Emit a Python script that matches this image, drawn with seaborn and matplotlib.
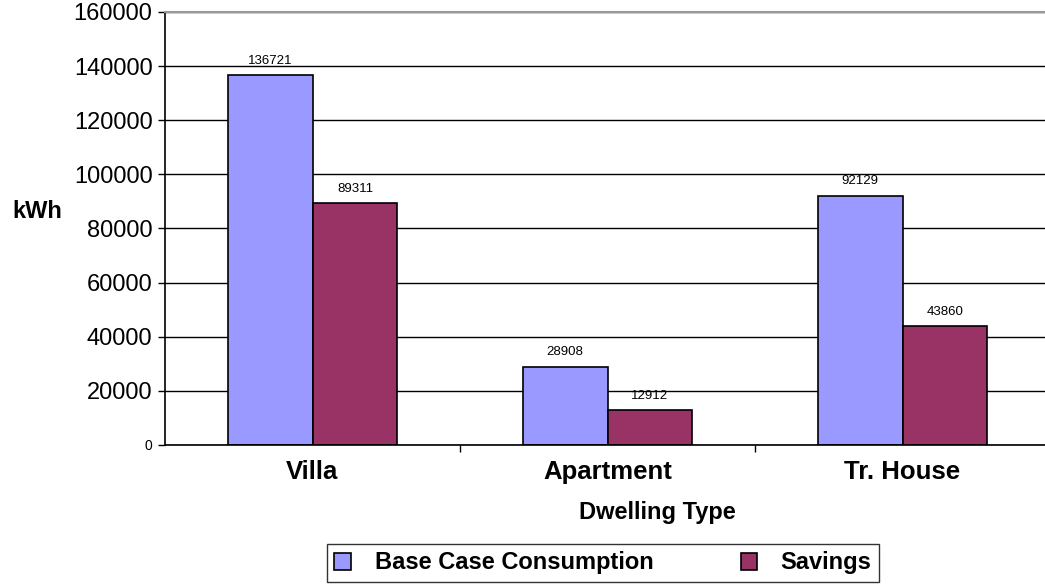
import matplotlib
matplotlib.use("Agg")
import matplotlib.pyplot as plt
import seaborn as sns
import pandas as pd
from matplotlib.ticker import FixedLocator

dwelling_types = ["Villa", "Apartment", "Tr. House"]
base_case = [136721, 28908, 92129]
savings = [89311, 12912, 43860]
series_names = ["Base Case Consumption", "Savings"]
y_ticks = [0, 20000, 40000, 60000, 80000, 100000, 120000, 140000, 160000]

df = pd.DataFrame({
    "Dwelling Type": dwelling_types * 2,
    "Series": [series_names[0]] * 3 + [series_names[1]] * 3,
    "kWh": base_case + savings,
})

sns.set_theme(style="white")
plt.rcParams["font.family"] = ["Liberation Sans", "DejaVu Sans"]
plt.rcParams["text.color"] = "black"

fig = plt.figure(figsize=(10.45, 5.85), dpi=100)
ax = fig.add_axes([165 / 1045, 1 - 445 / 585, 880 / 1045, 433 / 585])

sns.barplot(
    data=df, x="Dwelling Type", y="kWh", hue="Series",
    palette=["#9999FF", "#993366"], width=0.576, gap=0,
    edgecolor="black", linewidth=1.2, saturation=1, ax=ax, legend=True,
)

for cont in ax.containers:
    ax.bar_label(cont, labels=[f"{int(v)}" for v in cont.datavalues],
                 padding=6, fontsize=9.5, color="black")

ax.set_xlim(-0.5, 2.5 - 5 / 295)
ax.set_ylim(0, 160000)
ax.set_yticks(y_ticks)
ax.set_yticklabels([str(t) for t in y_ticks])
for lbl in ax.get_yticklabels():
    lbl.set_fontsize(10 if lbl.get_text() == "0" else 17)
ax.yaxis.grid(True, color="black", linewidth=1)
ax.set_axisbelow(True)
ax.tick_params(axis="y", which="major", left=True, length=5, width=1,
               color="black", pad=4, labelcolor="black")

ax.set_xticks([0, 1, 2])
ax.set_xticklabels(dwelling_types, fontsize=18.5, fontweight="bold", color="black")
ax.tick_params(axis="x", which="major", bottom=False, pad=5)
ax.xaxis.set_minor_locator(FixedLocator([0.5, 1.5]))
ax.tick_params(axis="x", which="minor", bottom=True, length=5, width=1,
               color="black")

ax.set_xlabel("")
ax.set_ylabel("")
ax.spines["right"].set_visible(False)
ax.spines["left"].set_color("black")
ax.spines["bottom"].set_color("black")
ax.spines["left"].set_linewidth(1.2)
ax.spines["bottom"].set_linewidth(1.2)
ax.spines["top"].set_color("#999999")
ax.spines["top"].set_linewidth(1.5)

fig.text(37 / 1045, 1 - 212 / 585, "kWh", fontsize=17, fontweight="bold",
         ha="center", va="center", color="black")
fig.text(657 / 1045, 1 - 513 / 585, "Dwelling Type", fontsize=17,
         fontweight="bold", ha="center", va="center", color="black")

handles, labels = ax.get_legend_handles_labels()
ax.get_legend().remove()
leg = fig.legend(
    handles, labels, loc="center", bbox_to_anchor=(603 / 1045, 1 - 563 / 585),
    ncol=2, frameon=True, fancybox=False, edgecolor="black",
    prop={"size": 17, "weight": "bold"}, handlelength=0.7, handleheight=0.7,
    columnspacing=3.7, handletextpad=1.0, borderpad=0.3, borderaxespad=0,
    labelcolor="black",
)
leg.get_frame().set_linewidth(1)

fig.savefig("out.png", dpi=100)
